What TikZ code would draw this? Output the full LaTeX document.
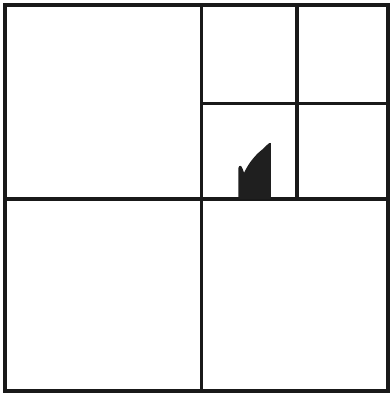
\documentclass[tikz,border=0pt]{standalone}
\begin{document}
\begin{tikzpicture}[x=1pt,y=-1pt,
  gridline/.style={line width=3.2pt,line cap=rect,black!90},
  blob/.style={fill=black!88,draw=none}]
\useasboundingbox (0,0) rectangle (390,395);
\fill[white] (0,0) rectangle (390,395);
% outer square
\draw[gridline] (5,5) rectangle (388,391);
% main cross
\draw[gridline] (201.5,5) -- (201.5,391);
\draw[gridline] (5,199) -- (388,199);
% top-right quadrant subdivision
\draw[gridline] (297,5) -- (297,199);
\draw[gridline] (201.5,103.5) -- (388,103.5);
% black shape
\fill[blob] (238.3,199) -- (238.3,168.3)
  .. controls (238.5,166.5) and (239.5,165.5) .. (240.5,165.8)
  .. controls (242,166.2) and (243,170) .. (244,172.7)
  .. controls (247,167) and (250,162) .. (253.3,158.3)
  .. controls (256,155) and (259,152) .. (261.7,150)
  .. controls (264,148) and (266,146) .. (267.5,144.5)
  .. controls (268.5,143.5) and (270,142.5) .. (270.8,143)
  -- (271,199) -- cycle;
\end{tikzpicture}
\end{document}
